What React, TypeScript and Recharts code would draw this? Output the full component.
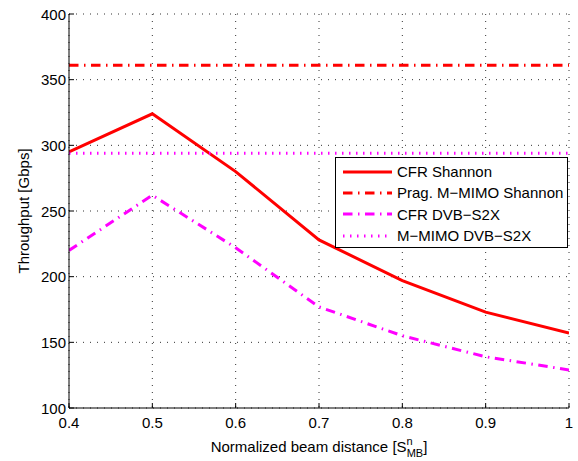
import React from 'react';
import { LineChart, Line, XAxis, YAxis, CartesianGrid, Legend, Label } from 'recharts';

const FONT = '"Liberation Sans", Arial, Helvetica, sans-serif';
const FS = 15;

const beamDistance = [0.4, 0.5, 0.6, 0.7, 0.8, 0.9, 1];
const cfrShannon = [295, 324, 280, 228, 197, 173, 157];
const pragMimoShannon = [361, 361, 361, 361, 361, 361, 361];
const cfrDvbS2x = [220, 262, 222, 177, 155, 139, 129];
const mimoDvbS2x = [294, 294, 294, 294, 294, 294, 294];

const xTicks = [0.4, 0.5, 0.6, 0.7, 0.8, 0.9, 1];
const yTicks = [100, 150, 200, 250, 300, 350, 400];

const seriesNames = ['CFR Shannon', 'Prag. M\u2212MIMO Shannon', 'CFR DVB\u2212S2X', 'M\u2212MIMO DVB\u2212S2X'];

const data = beamDistance.map((x, i) => ({
  x,
  cfrShannon: cfrShannon[i],
  pragMimoShannon: pragMimoShannon[i],
  cfrDvbS2x: cfrDvbS2x[i],
  mimoDvbS2x: mimoDvbS2x[i],
}));

const series = [
  { key: 'cfrShannon', name: seriesNames[0], color: '#ff0000', dash: undefined as string | undefined, width: 3 },
  { key: 'pragMimoShannon', name: seriesNames[1], color: '#ff0000', dash: '9.5 5.5 1.5 5.5', width: 3 },
  { key: 'cfrDvbS2x', name: seriesNames[2], color: '#ff00ff', dash: '9.5 5.5 1.5 5.5', width: 3 },
  { key: 'mimoDvbS2x', name: seriesNames[3], color: '#ff00ff', dash: '1.5 5.5', width: 3 },
];

const BottomTick = (props: any) => {
  const { x, y, payload } = props;
  return (
    <g>
      <line x1={x} y1={y} x2={x} y2={y - 5} stroke="#000" strokeWidth={1} />
      <text x={x} y={y} dy={20} textAnchor="middle" fontSize={FS} fill="#000" fontFamily={FONT}>
        {payload.value}
      </text>
    </g>
  );
};

const TopTick = (props: any) => {
  const { x, y } = props;
  return <line x1={x} y1={y} x2={x} y2={y + 5} stroke="#000" strokeWidth={1} />;
};

const LeftTick = (props: any) => {
  const { x, y, payload } = props;
  return (
    <g>
      <line x1={x} y1={y} x2={x + 5} y2={y} stroke="#000" strokeWidth={1} />
      <text x={x - 3} y={y} dy={5.5} textAnchor="end" fontSize={FS} fill="#000" fontFamily={FONT}>
        {payload.value}
      </text>
    </g>
  );
};

const RightTick = (props: any) => {
  const { x, y } = props;
  return <line x1={x} y1={y} x2={x - 5} y2={y} stroke="#000" strokeWidth={1} />;
};

const XLabel = (props: any) => {
  const vb = props.viewBox || {};
  const cx = vb.x + vb.width / 2;
  return (
    <text x={cx} y={452} textAnchor="middle" fontSize={FS} fill="#000" fontFamily={FONT}>
      Normalized beam distance [S
      <tspan dy={-7} fontSize={11}>n</tspan>
      <tspan dx={-6} dy={12} fontSize={11}>MB</tspan>
      <tspan dy={-5} fontSize={FS}>]</tspan>
    </text>
  );
};

const YLabel = (props: any) => {
  const vb = props.viewBox || {};
  const cy = vb.y + vb.height / 2;
  const lx = 29;
  return (
    <text
      x={lx}
      y={cy}
      textAnchor="middle"
      fontSize={FS}
      fill="#000"
      fontFamily={FONT}
      transform={`rotate(-90, ${lx}, ${cy})`}
    >
      Throughput [Gbps]
    </text>
  );
};

const LegendBox = () => (
  <div
    style={{
      width: 233,
      height: 91,
      boxSizing: 'border-box',
      border: '1px solid #000',
      background: '#fff',
      paddingTop: 3,
      fontFamily: FONT,
      fontSize: FS,
      color: '#000',
    }}
  >
    {series.map((s) => (
      <div key={s.key} style={{ height: 21.3, display: 'flex', alignItems: 'center' }}>
        <svg width={60} height={10} style={{ display: 'block', flex: 'none' }}>
          <line
            x1={7}
            y1={5}
            x2={56}
            y2={5}
            stroke={s.color}
            strokeWidth={s.width}
            strokeDasharray={s.dash}
          />
        </svg>
        <span style={{ marginLeft: 1, whiteSpace: 'nowrap', lineHeight: '17px' }}>{s.name}</span>
      </div>
    ))}
  </div>
);

export default function App() {
  return (
    <div style={{ position: 'absolute', left: 0, top: 0, width: 578, height: 461, background: '#fff' }}>
      <LineChart
        width={578}
        height={461}
        data={data}
        margin={{ top: 14, right: 9, bottom: 0, left: 0 }}
        style={{ fontFamily: FONT }}
      >
        <CartesianGrid stroke="#333" strokeDasharray="1 6" strokeWidth={1} />
        <XAxis
          dataKey="x"
          type="number"
          domain={[0.4, 1]}
          ticks={xTicks}
          interval={0}
          allowDataOverflow
          height={53}
          tickSize={0}
          tickMargin={0}
          tickLine={false}
          tick={<BottomTick />}
          axisLine={{ stroke: '#000', strokeWidth: 1 }}
        >
          <Label content={<XLabel />} />
        </XAxis>
        <XAxis
          xAxisId="top"
          orientation="top"
          dataKey="x"
          type="number"
          domain={[0.4, 1]}
          ticks={xTicks}
          interval={0}
          allowDataOverflow
          height={0}
          tickSize={0}
          tickMargin={0}
          tickLine={false}
          tick={<TopTick />}
          axisLine={{ stroke: '#000', strokeWidth: 1 }}
        />
        <YAxis
          type="number"
          domain={[100, 400]}
          ticks={yTicks}
          interval={0}
          allowDataOverflow
          width={69}
          tickSize={0}
          tickMargin={0}
          tickLine={false}
          tick={<LeftTick />}
          axisLine={{ stroke: '#000', strokeWidth: 1 }}
        >
          <Label content={<YLabel />} />
        </YAxis>
        <YAxis
          yAxisId="right"
          orientation="right"
          type="number"
          domain={[100, 400]}
          ticks={yTicks}
          interval={0}
          allowDataOverflow
          width={0}
          tickSize={0}
          tickMargin={0}
          tickLine={false}
          tick={<RightTick />}
          axisLine={{ stroke: '#000', strokeWidth: 1 }}
        />
        {series.map((s) => (
          <Line
            key={s.key}
            type="linear"
            dataKey={s.key}
            name={s.name}
            stroke={s.color}
            strokeWidth={s.width}
            strokeDasharray={s.dash}
            dot={false}
            activeDot={false}
            isAnimationActive={false}
          />
        ))}
        <Legend
          layout="vertical"
          align="center"
          verticalAlign="middle"
          content={<LegendBox />}
          wrapperStyle={{ position: 'absolute', left: 335, top: 157, width: 233, height: 91 }}
        />
      </LineChart>
    </div>
  );
}
